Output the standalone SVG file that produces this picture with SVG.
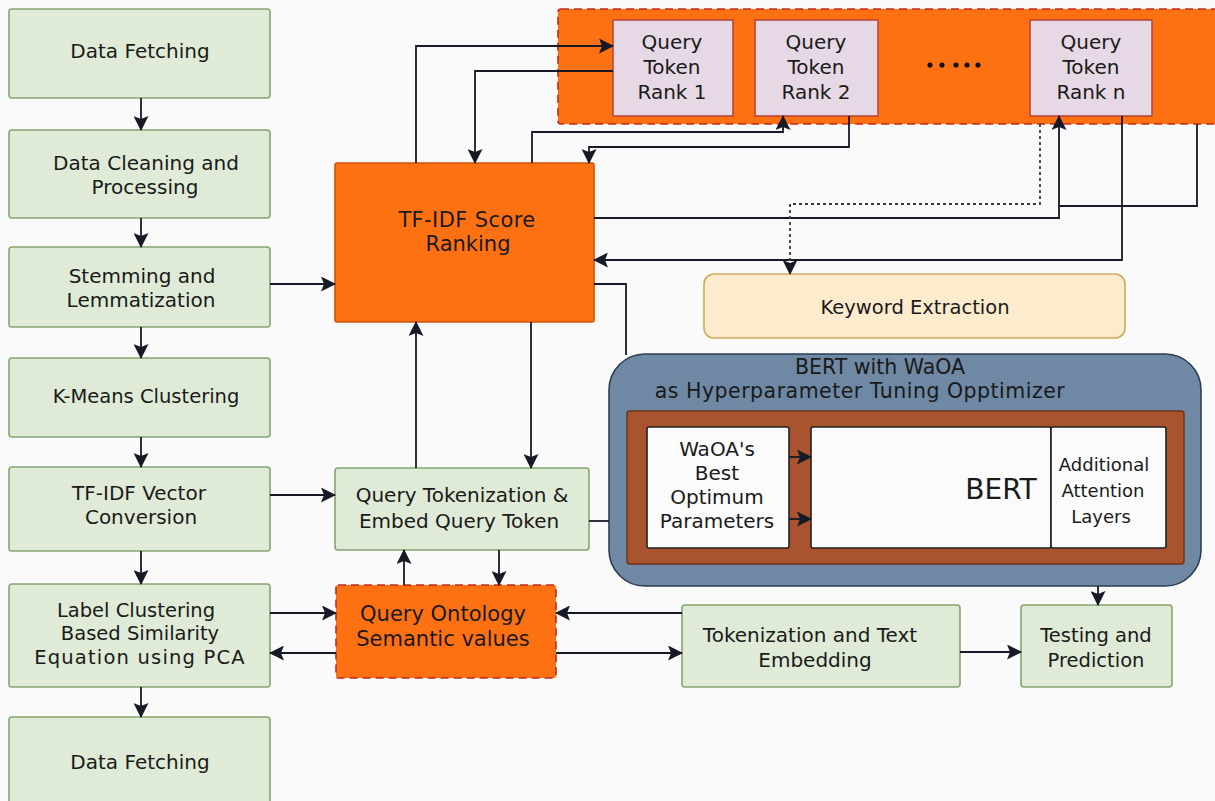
<svg xmlns="http://www.w3.org/2000/svg" width="1215" height="801" viewBox="0 0 1215 801">
  <defs>
    <marker id="arrow" markerUnits="userSpaceOnUse" markerWidth="15" markerHeight="15" refX="14" refY="7.5" orient="auto">
      <path d="M0,0 L15,7.5 L0,15 L3,7.5 z" fill="#151a26"/>
    </marker>
    <style>
      text { font-family: "DejaVu Sans", "Noto Sans", sans-serif; fill: #1a1a1a; text-anchor: middle; }
      .green { fill: #dfebd6; stroke: #84a56f; stroke-width: 1.6; }
      .orange { fill: #fd7113; stroke: #d2520b; stroke-width: 1.6; }
      .orange-dash { fill: #fd7113; stroke: #c4291b; stroke-width: 1.6; stroke-dasharray: 8 5; }
      .rank { fill: #e6d8e4; stroke: #b8493a; stroke-width: 1.6; }
      .white { fill: #fbfbfb; stroke: #222; stroke-width: 1.6; }
      .conn { fill: none; stroke: #151a26; stroke-width: 1.8; }
      .dotted { fill: none; stroke: #333a46; stroke-width: 1.8; stroke-dasharray: 3 3; }
      .t18 { font-size: 19.5px; }
      .t19 { font-size: 19.5px; }
      .t20 { font-size: 20px; }
    </style>
  </defs>

  <rect x="0" y="0" width="1215" height="801" fill="#fafafa"/>

  <!-- Left pipeline column -->
  <g id="data-fetching">
    <rect class="green" x="9" y="9" width="261" height="89" rx="3"/>
    <text class="t20" x="140" y="58">Data Fetching</text>
  </g>
  <g id="data-cleaning">
    <rect class="green" x="9" y="130" width="261" height="88" rx="3"/>
    <text class="t20" x="146" y="170">Data Cleaning and</text>
    <text class="t20" x="145" y="194">Processing</text>
  </g>
  <g id="stemming">
    <rect class="green" x="9" y="247" width="261" height="80" rx="3"/>
    <text class="t20" x="142" y="283">Stemming and</text>
    <text class="t20" x="141" y="307">Lemmatization</text>
  </g>
  <g id="kmeans">
    <rect class="green" x="9" y="358" width="261" height="79" rx="3"/>
    <text class="t19" x="146" y="403">K-Means Clustering</text>
  </g>
  <g id="tfidf-vector">
    <rect class="green" x="9" y="467" width="261" height="84" rx="3"/>
    <text class="t20" x="139" y="500">TF-IDF Vector</text>
    <text class="t20" x="141" y="524">Conversion</text>
  </g>
  <g id="label-clustering">
    <rect class="green" x="9" y="584" width="261" height="103" rx="3"/>
    <text class="t18" x="136" y="617">Label Clustering</text>
    <text class="t18" x="140" y="640">Based Similarity</text>
    <text class="t18" x="140" y="664" letter-spacing="1.2">Equation using PCA</text>
  </g>
  <g id="data-fetching-2">
    <rect class="green" x="9" y="717" width="261" height="95" rx="3"/>
    <text class="t20" x="140" y="769">Data Fetching</text>
  </g>

  <!-- Central processing -->
  <g id="tfidf-ranking">
    <rect class="orange" x="335" y="163" width="259" height="159" rx="2"/>
    <text x="467" y="227" font-size="21px" letter-spacing="0.4">TF-IDF Score</text>
    <text x="468" y="251" font-size="21px">Ranking</text>
  </g>
  <g id="query-tokenization">
    <rect class="green" x="335" y="468" width="254" height="82" rx="3"/>
    <text class="t20" x="462" y="502">Query Tokenization &amp;</text>
    <text class="t20" x="459" y="528">Embed Query Token</text>
  </g>
  <g id="query-ontology">
    <rect class="orange-dash" x="336" y="585" width="220" height="93" rx="2"/>
    <text x="443" y="621" font-size="21px">Query Ontology</text>
    <text x="443" y="646" font-size="21px">Semantic values</text>
  </g>

  <!-- Ranked query token band -->
  <g id="rank-band">
    <rect class="orange-dash" x="558" y="9" width="670" height="115" rx="3"/>
    <circle cx="930" cy="65" r="2.6" fill="#111"/>
    <circle cx="942" cy="65" r="2.6" fill="#111"/>
    <circle cx="956" cy="65" r="2.6" fill="#111"/>
    <circle cx="967" cy="65" r="2.6" fill="#111"/>
    <circle cx="978" cy="65" r="2.6" fill="#111"/>
  </g>
  <g id="rank-1">
    <rect class="rank" x="613" y="20" width="120" height="96"/>
    <text class="t20" x="672" y="49">Query</text>
    <text class="t20" x="672" y="74">Token</text>
    <text class="t20" x="672" y="99">Rank 1</text>
  </g>
  <g id="rank-2">
    <rect class="rank" x="755" y="20" width="123" height="96"/>
    <text class="t20" x="816" y="49">Query</text>
    <text class="t20" x="816" y="74">Token</text>
    <text class="t20" x="816" y="99">Rank 2</text>
  </g>
  <g id="rank-n">
    <rect class="rank" x="1030" y="20" width="122" height="96"/>
    <text class="t20" x="1091" y="49">Query</text>
    <text class="t20" x="1091" y="74">Token</text>
    <text class="t20" x="1091" y="99">Rank n</text>
  </g>

  <g id="keyword-extraction">
    <rect x="704" y="274" width="421" height="64" rx="10" fill="#fdebcd" stroke="#d3a85c" stroke-width="1.6"/>
    <text class="t19" x="915" y="314">Keyword Extraction</text>
  </g>

  <!-- BERT + WaOA tuning block -->
  <g id="bert-waoa">
    <rect x="609" y="354" width="592" height="232" rx="36" fill="#6f88a4" stroke="#2d3d52" stroke-width="1.6"/>
    <text x="880" y="374" font-size="20.5px">BERT with WaOA</text>
    <text x="860" y="398" font-size="20.5px" letter-spacing="0.5">as Hyperparameter Tuning Opptimizer</text>
    <rect x="627" y="411" width="557" height="153" rx="3" fill="#a9542f" stroke="#6e321b" stroke-width="1.4"/>
    <rect class="white" x="647" y="427" width="142" height="121" rx="2"/>
    <text class="t20" x="717" y="456">WaOA's</text>
    <text class="t20" x="717" y="480">Best</text>
    <text class="t20" x="717" y="504">Optimum</text>
    <text class="t20" x="717" y="528">Parameters</text>
    <rect class="white" x="811" y="427" width="240" height="121" rx="2"/>
    <text x="1001" y="499" font-size="28px">BERT</text>
    <rect class="white" x="1051" y="427" width="115" height="121" rx="2"/>
    <text x="1104" y="471" font-size="18px">Additional</text>
    <text x="1103" y="497" font-size="18px">Attention</text>
    <text x="1101" y="523" font-size="18px">Layers</text>
  </g>

  <g id="tokenization-embedding">
    <rect class="green" x="682" y="605" width="278" height="82" rx="3"/>
    <text class="t20" x="810" y="642">Tokenization and Text</text>
    <text class="t20" x="815" y="667">Embedding</text>
  </g>
  <g id="testing-prediction">
    <rect class="green" x="1021" y="605" width="151" height="82" rx="3"/>
    <text class="t19" x="1096" y="642">Testing and</text>
    <text class="t19" x="1096" y="667">Prediction</text>
  </g>

  <!-- Connectors -->
  <g id="connectors">
    <path class="conn" marker-end="url(#arrow)" d="M141,98 V130"/>
    <path class="conn" marker-end="url(#arrow)" d="M141,218 V247"/>
    <path class="conn" marker-end="url(#arrow)" d="M141,327 V358"/>
    <path class="conn" marker-end="url(#arrow)" d="M141,437 V467"/>
    <path class="conn" marker-end="url(#arrow)" d="M141,551 V584"/>
    <path class="conn" marker-end="url(#arrow)" d="M141,687 V717"/>

    <path class="conn" marker-end="url(#arrow)" d="M270,284 H335"/>
    <path class="conn" marker-end="url(#arrow)" d="M270,495 H335"/>
    <path class="conn" marker-end="url(#arrow)" d="M270,613 H336"/>
    <path class="conn" marker-end="url(#arrow)" d="M336,653 H270"/>

    <path class="conn" marker-end="url(#arrow)" d="M416,163 V46 H613"/>
    <path class="conn" marker-end="url(#arrow)" d="M613,71 H475 V163"/>
    <path class="conn" marker-end="url(#arrow)" d="M532,163 V132 H783 V116"/>
    <path class="conn" marker-end="url(#arrow)" d="M849,116 V147 H589 V163"/>
    <path class="conn" marker-end="url(#arrow)" d="M594,218 H1059 V116"/>
    <path class="conn" d="M1197,124 V206 H1059"/>
    <path class="conn" marker-end="url(#arrow)" d="M1122,116 V260 H594"/>
    <path class="dotted" marker-end="url(#arrow)" d="M1040,124 V204 H790 V274"/>
    <path class="conn" d="M594,284 H626 V355"/>
    <path class="conn" d="M589,521 H609"/>

    <path class="conn" marker-end="url(#arrow)" d="M416,468 V322"/>
    <path class="conn" marker-end="url(#arrow)" d="M531,322 V468"/>
    <path class="conn" marker-end="url(#arrow)" d="M404,585 V550"/>
    <path class="conn" marker-end="url(#arrow)" d="M499,550 V585"/>

    <path class="conn" marker-end="url(#arrow)" d="M682,613 H556"/>
    <path class="conn" marker-end="url(#arrow)" d="M556,653 H682"/>
    <path class="conn" marker-end="url(#arrow)" d="M960,652 H1021"/>
    <path class="conn" marker-end="url(#arrow)" d="M1098,586 V605"/>

    <path class="conn" marker-end="url(#arrow)" d="M789,457 H811"/>
    <path class="conn" marker-end="url(#arrow)" d="M789,519 H811"/>
  </g>
</svg>
